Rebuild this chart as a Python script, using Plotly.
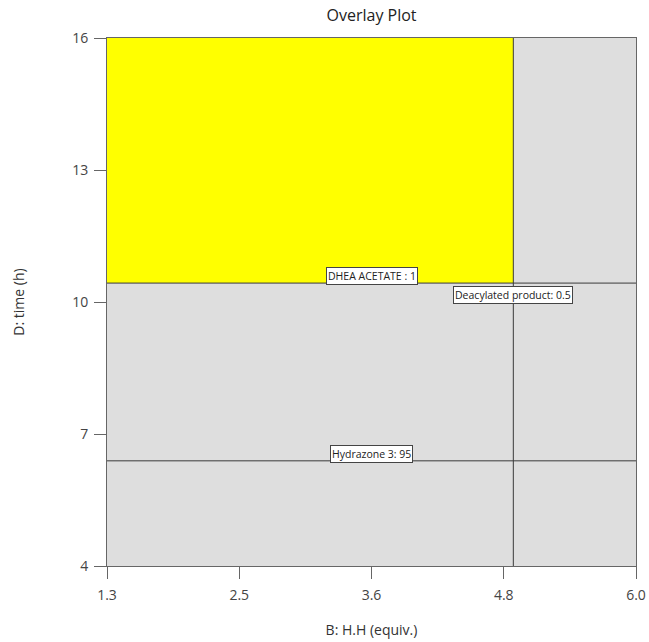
import plotly.graph_objects as go

# Factor ranges
x_range = [1.3, 6.0]
y_range = [4.0, 16.0]
x_tickvals = [1.3, 2.475, 3.65, 4.825, 6.0]
x_ticktext = ["1.3", "2.5", "3.6", "4.8", "6.0"]
y_tickvals = [4, 7, 10, 13, 16]

# Contour boundaries of the responses
dhea_time = 10.43          # DHEA ACETATE : 1
hydrazone_time = 6.39      # Hydrazone 3: 95
deacylated_hh = 4.91       # Deacylated product: 0.5

contour_labels = ["DHEA ACETATE : 1", "Deacylated product: 0.5", "Hydrazone 3: 95"]
label_x = [3.65, deacylated_hh, 3.65]
label_y = [dhea_time, dhea_time, hydrazone_time]

FONT = "Open Sans, Noto Sans, sans-serif"

fig = go.Figure()

# Feasible (sweet spot) region
fig.add_trace(go.Scatter(
    x=[x_range[0], deacylated_hh, deacylated_hh, x_range[0], x_range[0]],
    y=[dhea_time, dhea_time, y_range[1], y_range[1], dhea_time],
    fill="toself", fillcolor="#ffff00", mode="lines",
    line=dict(width=0), hoverinfo="skip", showlegend=False))

line_style = dict(color="#3a3a3a", width=1)
fig.add_trace(go.Scatter(x=x_range, y=[dhea_time, dhea_time], mode="lines",
                         line=line_style, showlegend=False))
fig.add_trace(go.Scatter(x=x_range, y=[hydrazone_time, hydrazone_time], mode="lines",
                         line=line_style, showlegend=False))
fig.add_trace(go.Scatter(x=[deacylated_hh, deacylated_hh], y=y_range, mode="lines",
                         line=line_style, showlegend=False))

label_font = dict(family=FONT, size=10.5, color="#222")
yshift = [7, -12, 7]
for txt, lx, ly, ys in zip(contour_labels, label_x, label_y, yshift):
    fig.add_annotation(x=lx, y=ly, text=txt, showarrow=False, yshift=ys,
                       font=label_font, bgcolor="white", bordercolor="#444",
                       borderwidth=1, borderpad=1)

axis_common = dict(showgrid=False, zeroline=False, showline=True, mirror=True,
                   linecolor="#666", linewidth=1, ticks="outside", ticklen=12,
                   tickcolor="#666", automargin=False,
                   tickfont=dict(family=FONT, size=14, color="#444"))

fig.update_xaxes(range=x_range, tickvals=x_tickvals, ticktext=x_ticktext,
                 ticklabelstandoff=4,
                 title=dict(text="B: H.H (equiv.)", standoff=22,
                            font=dict(family=FONT, size=14, color="#333")),
                 **axis_common)
fig.update_yaxes(range=y_range, tickvals=y_tickvals, ticklabelstandoff=3,
                 title=dict(text="D: time (h)", standoff=44,
                            font=dict(family=FONT, size=14, color="#333")),
                 **axis_common)

fig.update_layout(
    width=649, height=642,
    margin=dict(l=107, r=13, t=38, b=76),
    paper_bgcolor="white", plot_bgcolor="#dedede",
    title=dict(text="Overlay Plot", x=0.5725, xanchor="center", y=0.985, yanchor="top",
               font=dict(family=FONT, size=16, color="#222")),
)

fig.write_html("out.html")
